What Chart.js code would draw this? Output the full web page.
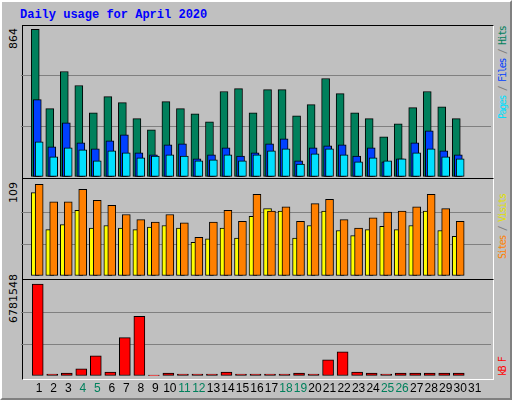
<!DOCTYPE html>
<html><head><meta charset="utf-8">
<script src="https://cdn.jsdelivr.net/npm/chart.js@4"></script>
<style>
body{margin:0;background:#fff}
#wrap{position:absolute;left:0;top:0;width:508px;height:396px;background:#c0c0c0;border-top:2px solid #fff;border-left:2px solid #fff;border-right:2px solid #808080;border-bottom:2px solid #808080}
.panel{position:absolute;left:20px;width:470px;border-top:1px solid #000;border-left:1px solid #000;border-right:1px solid #fff;border-bottom:1px solid #fff;background:#c0c0c0}
canvas{position:absolute}
.rot{position:absolute;transform-origin:0 0;transform:rotate(-90deg);white-space:nowrap;font-family:"DejaVu Sans";font-size:11px}
.leg{position:absolute;transform-origin:0 0;transform:rotate(-90deg);white-space:nowrap;font-family:"DejaVu Sans Mono";font-size:10px;letter-spacing:-1.4px}
#title{position:absolute;left:18px;top:6px;font-family:"Liberation Mono";font-weight:bold;font-size:12px;color:#0000ff}
</style></head><body>
<div id="wrap">
<div id="title">Daily usage for April 2020</div>
<div class="panel" style="top:23px;height:152px"></div>
<div class="panel" style="top:176px;height:100px"></div>
<div class="panel" style="top:277px;height:99px"></div>
<canvas id="c1" style="left:19px;top:23px;width:470px;height:152px"></canvas>
<canvas id="c2" style="left:19px;top:178px;width:470px;height:96px"></canvas>
<canvas id="c3" style="left:19px;top:278px;width:470px;height:120px"></canvas>
<div class="rot" style="left:5px;top:47px">864</div>
<div class="rot" style="left:5px;top:201px">109</div>
<div class="rot" style="left:5px;top:321px">6781548</div>
<div class="leg" style="left:495px;top:117px"><span style="color:#00e0ff">Pages</span><span style="color:#808080"> / </span><span style="color:#0040ff">Files</span><span style="color:#808080"> / </span><span style="color:#00805c">Hits</span></div>
<div class="leg" style="left:495px;top:257px"><span style="color:#ff8000">Sites</span><span style="color:#808080"> / </span><span style="color:#e0e000">Visits</span></div>
<div class="leg" style="left:495px;top:374px"><span style="color:#ff0000">kB F</span></div>
</div>
<script>
const days=[1,2,3,4,5,6,7,8,9,10,11,12,13,14,15,16,17,18,19,20,21,22,23,24,25,26,27,28,29,30,31];
const weekend=[4,5,11,12,18,19,25,26];
const hits=[864,400,617,535,376,470,435,341,276,441,400,370,323,500,517,376,511,511,358,423,576,488,376,341,235,311,406,500,411,341,0];
const files=[453,176,317,200,165,212,247,141,129,188,194,106,129,170,123,141,194,223,94,170,182,188,123,170,88,106,200,270,153,129,0];
const pages=[206,118,170,159,94,153,141,112,123,129,123,94,100,129,94,129,153,165,76,135,165,129,88,112,94,106,141,165,118,106,0];
const visits=[99,55,61,78,57,60,57,55,58,60,57,40,44,57,45,71,80,77,45,60,77,54,48,55,59,55,60,77,54,47,0];
const sites=[109,88,88,103,90,84,73,67,64,73,63,46,64,78,65,97,77,82,65,86,91,67,57,69,76,77,82,97,80,65,0];
const kbytes=[6781548,149000,224000,522000,1490000,298000,2832000,4397000,60000,224000,149000,149000,149000,298000,149000,149000,149000,149000,224000,149000,1192000,1789000,298000,224000,149000,224000,224000,224000,224000,224000,0];

Chart.defaults.animation=false;
function ds(vals,color,shift,order,thick){
  return {data:days.map((d,i)=>({x:d+shift,y:vals[i]})),backgroundColor:color,borderColor:'#000',borderWidth:1,
    borderSkipped:false,grouped:false,barThickness:thick,order:order};
}
function mk(id,datasets,max,showX){
  const x={type:'linear',min:0.27,max:31.6,display:showX,grid:{display:false,drawTicks:false},border:{display:false},
          afterBuildTicks:a=>{a.ticks=days.map(v=>({value:v}));},
          ticks:{padding:5,autoSkip:false,maxRotation:0,font:{family:'Liberation Sans',size:12},
            color:c=>weekend.includes(c.tick.value)?'#00805c':'#000'}};
  if(showX) x.afterFit=s=>{s.height=24;};
  new Chart(document.getElementById(id),{type:'bar',data:{datasets},
    options:{responsive:false,devicePixelRatio:1,layout:{padding:0},
      plugins:{legend:{display:false},tooltip:{enabled:false}},
      scales:{
        x:x,
        y:{min:0,max:max,display:true,border:{display:false},ticks:{display:false,stepSize:max/3},
          grid:{drawTicks:false,color:c=>(c.index===0||c.index===3)?'rgba(0,0,0,0)':'#808080',lineWidth:1}}
      }}});
}
function sz(id){const c=document.getElementById(id);c.width=parseInt(c.style.width);c.height=parseInt(c.style.height);}
['c1','c2','c3'].forEach(sz);
mk('c1',[ds(hits,'#00805c',-0.27,3,8),ds(files,'#0040ff',-0.13,2,8),ds(pages,'#00e0ff',0,1,8)],889,false);
mk('c2',[ds(visits,'#ffff00',-0.27,2,8),ds(sites,'#ff8000',0,1,8)],114,false);
mk('c3',[ds(kbytes,'#ff0000',-0.1,1,11)],7080000,true);
</script>
</body></html>
